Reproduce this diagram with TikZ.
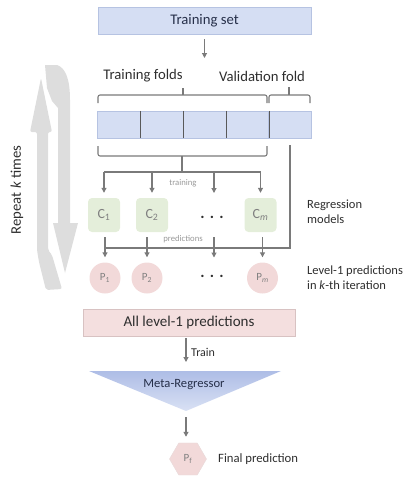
\documentclass[tikz,border=0pt]{standalone}
\usepackage{fontspec}
\setmainfont{Carlito}
\usepackage{xcolor}
\usepackage{tikz}
\usetikzlibrary{arrows.meta}
\usetikzlibrary{calc}
\usetikzlibrary{positioning}
\usetikzlibrary{shapes.geometric}

\definecolor{setblue}{HTML}{D5DEF3}
\definecolor{setedge}{HTML}{B6C3E2}
\definecolor{modgreen}{HTML}{E4EEDA}
\definecolor{predpink}{HTML}{F2D9D9}
\definecolor{allpink}{HTML}{F4DFDF}
\definecolor{alledge}{HTML}{D8C2C2}
\definecolor{linegray}{HTML}{7A7A7A}
\definecolor{loopgray}{HTML}{DDDDDD}
\definecolor{txt}{HTML}{2E2E2E}
\definecolor{navytxt}{HTML}{27304A}
\definecolor{tritop}{HTML}{AEBDE6}
\definecolor{tribot}{HTML}{D9E1F4}

\begin{document}
\begin{tikzpicture}[x=1pt,y=-1pt,
    arr/.style={-{Triangle[length=5pt,width=5pt]}, draw=linegray, line width=1.1pt},
    ln/.style={draw=linegray, line width=1.1pt},
    fold/.style={fill=setblue, draw=setedge, minimum width=43pt, minimum height=27pt, inner sep=0pt},
    model/.style={fill=modgreen, rounded corners=4pt, minimum width=32pt, minimum height=34pt, inner sep=0pt, text=gray, font=\fontsize{14}{16}\selectfont},
    pred/.style={circle, fill=predpink, minimum size=31pt, inner sep=0pt, text=gray, font=\fontsize{11}{13}\selectfont},
    lbl/.style={text=txt, font=\fontsize{12.5}{15}\selectfont, align=left, inner sep=0pt},
    big/.style={text=txt, font=\fontsize{14.7}{17}\selectfont, inner sep=0pt},
    tiny/.style={text=gray!80, font=\fontsize{8.7}{10}\selectfont, inner sep=0pt},
    dotsnode/.style={text=txt, font=\fontsize{16}{16}\selectfont\bfseries, inner sep=0pt}]
    \useasboundingbox (0,0) rectangle (413,480);

    % repeat loop
    \fill[loopgray, rounded corners=2pt] (41,78) -- (52,132) -- (48,132) -- (48,250) -- (52,255)
        -- (62,289) -- (46,290) -- (39,262) -- (37,250) -- (37,132) -- (30,132) -- cycle;
    \fill[loopgray] (45,65) -- (57,65) .. controls (66,68) and (70,80) .. (70,100) -- (70,223)
        -- (78,223) -- (65,273) -- (53,223) -- (58,223) -- (58,108) -- (52,101) -- (47,88) -- cycle;
    \node[big, rotate=90] (repeat) at (17,190) {Repeat \textit{k} times};

    % training set and folds
    \node[fill=setblue, draw=setedge, minimum width=213pt, minimum height=27pt, text=navytxt,
        font=\fontsize{14.7}{17}\selectfont] (trainset) at (204.5,20.5) {Training set};
    \coordinate (split) at (204.5,58);
    \draw [arr, shorten <=5pt] (trainset) -- (split);

    \node[big] (trfolds) at (143,76) {Training folds};
    \node[big] (valfold) at (262,76) {Validation fold};

    \node[fold] (f1) at (118.5,124.5) {};
    \node[fold] (f2) at (161.5,124.5) {};
    \node[fold] (f3) at (204.5,124.5) {};
    \node[fold] (f4) at (247.5,124.5) {};
    \node[fold] (f5) at (290,124.5) {};
    \draw[draw=black!65, line width=0.9pt] (f1.north east) -- (f1.south east);
    \draw[draw=black!65, line width=0.9pt] (f2.north east) -- (f2.south east);
    \draw[draw=black!65, line width=0.9pt] (f3.north east) -- (f3.south east);
    \draw[draw=black!65, line width=0.9pt] (f4.north east) -- (f4.south east);

    % braces
    \draw[ln, rounded corners=2pt] (98,103) -- (98,95) -- (267,95) -- (267,103);
    \draw[ln] (183,95) -- (183,88);
    \draw[ln, rounded corners=2pt] (269,103) -- (269,95) -- (310,95) -- (310,103);
    \draw[ln] (289,95) -- (289,87);
    \draw[ln, rounded corners=2pt] (98,146) -- (98,156) -- (267,156) -- (267,146);
    \coordinate (bus) at (182,172);
    \draw[ln] (182,156) -- (bus);

    % regression models
    \node[model] (c1) at (104,215) {C\textsubscript{1}};
    \node[model] (c2) at (152,215) {C\textsubscript{2}};
    \node[dotsnode] (cdots) at (212,217) {.\,\,.\,\,.};
    \node[model] (cm) at (260.5,215) {C\textsubscript{\itshape m}};
    \coordinate (cdotsin) at (214,198);

    \draw[ln] (c1 |- bus) -- (cm |- bus);
    \draw [arr, shorten >=5pt] (c1 |- bus) -- (c1.north);
    \draw [arr, shorten >=5pt] (c2 |- bus) -- (c2.north);
    \draw [arr, shorten >=5pt] (cdotsin |- bus) -- (cdotsin);
    \draw [arr, shorten >=5pt] (cm |- bus) -- (cm.north);
    \node[tiny] (trlbl) at (183,183) {training};

    % level-1 predictions
    \node[pred] (p1) at (105,278) {P\textsubscript{1}};
    \node[pred] (p2) at (147,278) {P\textsubscript{2}};
    \node[dotsnode] (pdots) at (212,276) {.\,\,.\,\,.};
    \node[pred] (pm) at (262.5,278) {P\textsubscript{\itshape m}};
    \coordinate (pdotsin) at (214,262.5);

    \coordinate (vbot) at (290,248);
    \draw[ln] ([yshift=-7pt]f5.south) -- (vbot) -- (p1 |- vbot);
    \draw [arr, shorten <=5pt, shorten >=5pt] (p1 |- c1.south) -- (p1.north);
    \draw [arr, shorten <=5pt, shorten >=5pt] (p2 |- c2.south) -- (p2.north);
    \draw [arr, shorten <=5pt, shorten >=5pt] (pdotsin |- c1.south) -- (pdotsin);
    \draw [arr, shorten <=5pt, shorten >=5pt] (pm |- cm.south) -- (pm.north);
    \node[tiny] (predlbl) at (183,239) {predictions};

    \node[lbl, anchor=west] (regmod) at (307,211.5) {Regression\\models};
    \node[lbl, anchor=west] (lvlone) at (307,277.5) {Level-1 predictions\\in \textit{k}-th iteration};

    % meta level
    \node[fill=allpink, draw=alledge, minimum width=212pt, minimum height=27pt, text=txt,
        font=\fontsize{15}{17}\selectfont] (allpred) at (189,322.5) {All level-1 predictions};
    \coordinate (metatop) at (186,371);
    \draw [arr, shorten <=2pt, shorten >=9pt] (metatop |- allpred.south) -- (metatop);
    \node[lbl, anchor=west, font=\fontsize{12}{14}\selectfont] (trainlbl) at (191,352) {Train};

    \shade[top color=tritop, bottom color=tribot] (89,371) -- (281,371) -- (186,411) -- cycle;
    \node[text=navytxt, font=\fontsize{12.6}{15}\selectfont] (meta) at (184,385) {Meta-Regressor};
    \coordinate (metabot) at (186,411);

    \node[regular polygon, regular polygon sides=6, minimum size=37pt, inner sep=0pt,
        fill=predpink, draw=alledge!60, text=gray, font=\fontsize{11}{13}\selectfont] (pf) at (188,459) {P\textsubscript{f}};
    \draw [arr, shorten <=6pt, shorten >=6pt] (metabot) -- (metabot |- pf.north);
    \node[lbl, anchor=west, font=\fontsize{12.7}{15}\selectfont] (finlbl) at (218,459) {Final prediction};
  \end{tikzpicture}
\end{document}
